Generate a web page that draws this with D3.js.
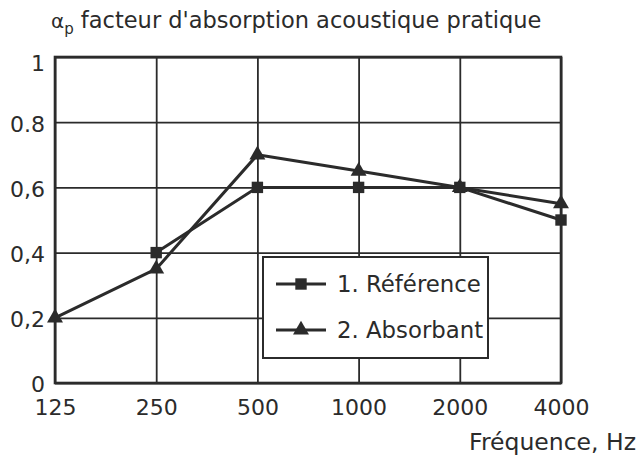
<!DOCTYPE html>
<html>
<head>
<meta charset="utf-8">
<script src="https://cdn.jsdelivr.net/npm/d3@7/dist/d3.min.js"></script>
<style>
  html, body { margin: 0; padding: 0; background: #fff; }
  svg { display: block; }
  text { font-family: "DejaVu Sans", sans-serif; fill: #2b2b2b; }
</style>
</head>
<body>
<div id="chart"></div>
<script>
// values
const frequencies = ['125', '250', '500', '1000', '2000', '4000']
const yTicks = [0, 0.2, 0.4, 0.6, 0.8, 1]
const yTickLabels = ['0', '0,2', '0,4', '0,6', '0.8', '1']
const reference = [null, 0.4, 0.6, 0.6, 0.6, 0.5]
const absorbant = [0.2, 0.35, 0.7, 0.65, 0.6, 0.55]
const seriesNames = ['1. Référence', '2. Absorbant']

const size = { width: 641, height: 457 }
const margin = { top: 57, right: 80, bottom: 74, left: 55 }
const chartWidth = size.width - margin.left - margin.right
const chartHeight = size.height - margin.top - margin.bottom
const ink = '#2b2b2b'

const svg = d3.select('#chart').append('svg')
  .attr('width', size.width)
  .attr('height', size.height)

const x = d3.scalePoint().domain(frequencies).range([0, chartWidth])
const y = d3.scaleLinear().domain([0, 1]).range([chartHeight, 0])

const chartArea = svg.append('g')
  .attr('transform', 'translate(' + margin.left + ',' + margin.top + ')')

// grid + tick labels
const yAxis = chartArea.append('g')
  .call(d3.axisLeft(y).tickValues(yTicks)
    .tickFormat(function(d, i){ return yTickLabels[i] })
    .tickSize(-chartWidth).tickPadding(10))
const xAxis = chartArea.append('g')
  .attr('transform', 'translate(0,' + chartHeight + ')')
  .call(d3.axisBottom(x).tickSize(-chartHeight).tickPadding(15))

;[xAxis, yAxis].forEach(function(ax){
  ax.select('.domain').remove()
  ax.selectAll('line').attr('stroke', ink).attr('stroke-width', 1.8)
  ax.selectAll('text').style('font-size', '22px').attr('fill', ink)
})
yAxis.selectAll('text').attr('dy', function(d){ return d === 1 ? '0.6em' : '0.4em' })
xAxis.selectAll('text').attr('dy', '0.75em')

// frame
chartArea.append('rect')
  .attr('width', chartWidth).attr('height', chartHeight)
  .attr('fill', 'none').attr('stroke', ink).attr('stroke-width', 2.6)

function valid(d){ return d != null }
const line = d3.line()
  .defined(function(d){ return valid(d.v) })
  .x(function(d){ return x(d.f) })
  .y(function(d){ return y(d.v) })

function pairs(values){
  return values.map(function(v, i){ return { f: frequencies[i], v: v } })
}

const triangle = d3.symbol().type(d3.symbolTriangle).size(110)
const square = d3.symbol().type(d3.symbolSquare).size(130)

const series = [
  { name: seriesNames[0], values: pairs(reference), symbol: square },
  { name: seriesNames[1], values: pairs(absorbant), symbol: triangle }
]

series.forEach(function(s){
  chartArea.append('path')
    .datum(s.values)
    .attr('fill', 'none')
    .attr('stroke', ink)
    .attr('stroke-width', 3)
    .attr('stroke-linejoin', 'round')
    .attr('d', line)
  chartArea.selectAll(null)
    .data(s.values.filter(function(d){ return valid(d.v) }))
    .enter().append('path')
    .attr('d', s.symbol)
    .attr('fill', ink)
    .attr('transform', function(d){ return 'translate(' + x(d.f) + ',' + y(d.v) + ')' })
})

// legend
const legend = svg.append('g').attr('transform', 'translate(263,257)')
legend.append('rect')
  .attr('width', 225).attr('height', 101)
  .attr('fill', '#fff').attr('stroke', ink).attr('stroke-width', 2)
series.forEach(function(s, i){
  const row = legend.append('g').attr('transform', 'translate(0,' + (27 + i * 46) + ')')
  row.append('line').attr('x1', 13).attr('x2', 63)
    .attr('stroke', ink).attr('stroke-width', 3)
  row.append('path').attr('d', s.symbol).attr('fill', ink)
    .attr('transform', 'translate(38,0)')
  row.append('text').attr('x', 74).attr('dy', '0.36em')
    .style('font-size', '22.8px').text(s.name)
})

// titles
const title = svg.append('text').attr('x', 51).attr('y', 28).style('font-size', '22.5px')
title.append('tspan').text('α').style('font-size', '20px')
title.append('tspan').text('p').attr('dy', 6).style('font-size', '15px')
title.append('tspan').text(' facteur d\'absorption acoustique pratique').attr('dy', -6)

svg.append('text')
  .attr('x', 636).attr('y', 450)
  .attr('text-anchor', 'end')
  .style('font-size', '23.5px')
  .text('Fréquence, Hz')
</script>
</body>
</html>
